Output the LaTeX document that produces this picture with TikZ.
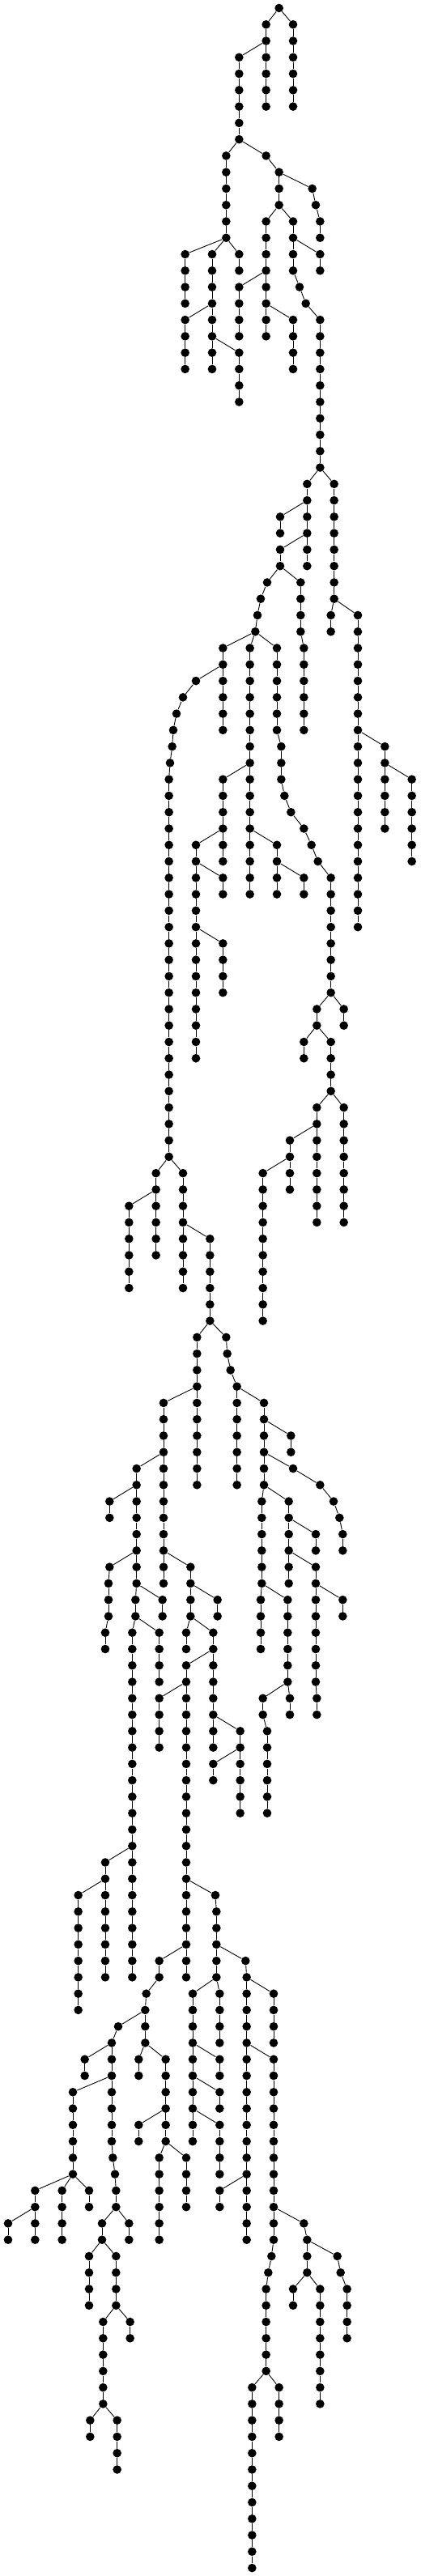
\documentclass[tikz,border=0pt]{standalone}
\usepackage{tikz}
\tikzset{
  dot/.style={circle,draw=none,fill=black,inner sep=0pt,minimum size=5.3pt},
  link/.style={line width=0.45pt},
  tree/.style={x=0.16667pt,y=10.135pt}
}
% one branch: name, parent node, first level, x of each node
\newcommand{\branch}[4]{%
  \foreach \xx [count=\k from 0] in {#4}{%
    \pgfmathtruncatemacro{\lev}{#3+\k}
    \node[dot] (#1-\k) at (\xx,-\lev) {};
    \ifnum\k=0 \draw[link] (#2) -- (#1-0);
    \else \pgfmathtruncatemacro{\prv}{\k-1}\draw[link] (#1-\prv) -- (#1-\k);\fi
  }%
}
\begin{document}
\begin{tikzpicture}[tree]
  \useasboundingbox (0,0.4933) rectangle (1557,-156.49);
  \node[dot] (r) at (1034,0) {};
  \branch{a}{r}{1}{986,986,986,986,986,986}
  \branch{b}{r}{1}{1086,1086,1086,1086,1086,1086}
  \branch{c}{a-1}{3}{886,886,886,886,886,886}
  \branch{d}{c-5}{9}{838,838,838,838,838,838}
  \branch{e}{c-5}{9}{986,1034,1034,1034}
  \branch{f}{e-1}{11}{1157,1170,1186,1186}
  \branch{g}{e-3}{13}{986,986,986,986}
  \branch{h}{e-3}{13}{1086,1086}
  \branch{i}{h-1}{15}{1086,1086,1110,1133,1186,1186,1186,1186,1186,1186,1186,1186,1186,1186}
  \branch{j}{h-1}{15}{1186,1186}
  \branch{k}{d-5}{15}{686,686,686,686}
  \branch{l}{d-5}{15}{786,786,786,786}
  \branch{m}{d-5}{15}{886,886}
  \branch{n}{l-3}{19}{686,686,686,686}
  \branch{o}{l-3}{19}{786,786,786,786}
  \branch{p}{o-1}{21}{886,886,886,886}
  \branch{q}{g-3}{17}{886,886,886,886}
  \branch{s}{g-3}{17}{986,986,986,986}
  \branch{t}{s-1}{19}{1086,1086,1086,1086}
  % middle part
  \branch{u}{i-13}{29}{1138,1138,1138,1138,1138,1138}
  \branch{v}{u-1}{31}{1038,1038}
  \branch{w}{u-3}{33}{1038,1038}
  \branch{x}{w-1}{35}{990,966,954,946}
  \branch{y}{w-1}{35}{1114,1114,1114,1114,1126,1126,1126,1126,1126,1126}
  \branch{z}{i-13}{29}{1238,1238,1238,1238,1238,1238,1238,1238}
  \branch{aa}{z-7}{37}{1226,1226}
  \branch{ab}{z-7}{37}{1326,1326,1326,1326,1326,1326,1326,1326,1326,1326,1326,1326,1326,1326,1326,1326,1326,1326,1326,1326}
  \branch{ac}{ab-7}{45}{1426,1426,1426,1426,1426,1426}
  \branch{ad}{ac-1}{47}{1526,1526,1526,1526,1526,1526}
  \branch{ae}{x-3}{39}{826,826,826,826,826,826}
  \branch{af}{ae-1}{41}{726,678,654,642,638,630,626,626,626,626,626,626,626,626,626,626,626,626,626,626,626,626,626,626,626,626,626,626,626,626}
  \branch{ag}{x-3}{39}{926,926,926,926,926,926,926,926,926,926,926,926,926,926,926,926}
  \branch{ah}{ag-7}{47}{826,826,826,826,826,826}
  \branch{ai}{ah-3}{51}{726,726,726,726,726,726,726,726,726,726,726,726,726,726}
  \branch{aj}{ai-1}{53}{826,826}
  \branch{ak}{ai-5}{57}{826,826,826,826}
  \branch{al}{ag-11}{51}{1026,1026,1026,1026}
  \branch{am}{al-1}{53}{1126,1126}
  \branch{an}{x-3}{39}{1026,1026,1026,1026,1026,1026,1042,1042,1042,1054,1078,1126,1154,1178,1226,1226,1226,1226,1226,1226,1226,1226}
  \branch{ao}{an-21}{61}{1274,1274}
  \branch{ap}{an-21}{61}{1174,1174}
  \branch{aq}{ap-1}{63}{1126,1126}
  \branch{ar}{ap-1}{63}{1226,1226,1226,1226}
  \branch{as}{ar-3}{67}{1174,1174,1174,1174,1174,1174,1174,1174}
  \branch{at}{ar-3}{67}{1274,1274,1274,1274,1274,1274,1274,1274}
  \branch{au}{as-1}{69}{1074,1074,1074,1074}
  \branch{av}{au-1}{71}{974,974,974,974,974,974,974,974,974,974}
  \branch{aw}{af-29}{71}{578,578,578,578,578,578}
  \branch{ax}{aw-1}{73}{478,478,478,478,478,478}
  \branch{ay}{af-29}{71}{678,678,678,678,678,678,678,678}
  \branch{az}{ay-3}{75}{778,778,778,778,778,778}
  % lower part
  \branch{ba}{az-5}{81}{730,730,730,730,730,730,730,730,730,730}
  \branch{bb}{ba-3}{85}{606,606,606,606,606,606,606,606,606,606,606,606}
  \branch{bc}{bb-9}{95}{706,706,706,706}
  \branch{bd}{bc-1}{97}{806,806}
  \branch{be}{bc-3}{99}{690,690}
  \branch{bf}{bc-3}{99}{790,790,790,790,790,790,790,790}
  \branch{bg}{bf-1}{101}{690,690,690,690,690,690,690,690,690,690,690,690,690,690,690,690,690,690,690,690}
  \branch{bh}{bg-1}{103}{590,590,590,590}
  \branch{bi}{bf-5}{105}{890,890,890,890,890,890}
  \branch{bj}{bi-1}{107}{790,790}
  \branch{bk}{bb-3}{89}{506,506,506,506,506,506,506,506,502,502,490,490,490,490,490,490,490,490,490,490,490,490,490,490,490,490,490,490,490,490,490,490}
  \branch{bl}{bk-1}{91}{406,406}
  \branch{bm}{bk-5}{95}{406,402,402,402,390,390}
  \branch{bn}{bk-7}{97}{602,602}
  \branch{bo}{bk-9}{99}{590,590,590,590}
  \branch{bp}{bk-23}{113}{390,390,390,390,390,390,390,390}
  \branch{bq}{bp-1}{115}{290,290,290,290,290,290,290,290}
  \branch{br}{bg-13}{115}{798,802,802,802,802,802}
  \branch{bs}{br-5}{121}{714,714,714,714,714,714,714,714,714,714}
  \branch{bt}{br-5}{121}{814,814,814,814}
  \branch{bu}{bs-3}{125}{814,814}
  \branch{bv}{bs-5}{127}{814,814}
  \branch{bw}{bs-7}{129}{814,814,814,814}
  \branch{bx}{br-3}{119}{910,914,914,914,914,914,914,914,914,914,914,914,914,914,914,914,914,914}
  \branch{by}{bx-1}{121}{1014,1014,1014,1014}
  \branch{bz}{bx-5}{125}{1014,1014,1014,1014,1014,1014,1014,1014,1014,1014,1014,1014,1006,994,986,986,986,986,986,986}
  \branch{ca}{bx-13}{133}{814,814}
  \branch{cb}{bz-9}{135}{1126,1138,1138,1138}
  \branch{cc}{cb-1}{137}{1250,1262,1286,1286,1286,1286}
  \branch{cd}{cb-3}{139}{1086,1086}
  \branch{ce}{cb-3}{139}{1186,1186,1186,1186,1186,1186,1186,1186}
  \branch{cf}{bz-19}{145}{934,934,934,934,934,934,934,934,934,934,934,934}
  \branch{cg}{bz-19}{145}{1034,1034,1034,1034}
  \branch{ch}{bg-17}{119}{590,590,542,538,538,538}
  \branch{ci}{ch-3}{123}{438,414,414,414,414,414,414,414,418,426,430,430}
  \branch{cj}{ci-1}{125}{314,314}
  \branch{ck}{ci-3}{127}{270,270,270,270,270,270}
  \branch{cl}{ck-5}{133}{130,130,130,130}
  \branch{cm}{cl-1}{135}{30,30}
  \branch{cn}{ck-5}{133}{230,230,230,230}
  \branch{co}{ck-5}{133}{330,330}
  \branch{cp}{ci-11}{135}{478,478}
  \branch{cq}{ci-11}{135}{378,378}
  \branch{cr}{cq-1}{137}{330,330,330,330}
  \branch{cs}{cq-1}{137}{430,430,430,430}
  \branch{ct}{cs-3}{141}{482,482}
  \branch{cu}{cs-3}{141}{382,382,382,382,382,382}
  \branch{cv}{cu-5}{147}{334,334}
  \branch{cw}{cu-5}{147}{434,434,434,434}
  \branch{cx}{ch-5}{125}{514,514}
  \branch{cy}{ch-5}{125}{614,614,614,614,614,614}
  \branch{cz}{cy-3}{129}{514,514}
  \branch{da}{cy-5}{131}{590,590,590,590,590,590}
  \branch{db}{cy-5}{131}{690,690,690,690}
  \branch{dc}{az-5}{81}{838,842,854,878,878,878,878,878,878,878}
  \branch{dd}{dc-3}{85}{978,978,978,978,978,978}
  \branch{de}{dd-1}{87}{1078,1078}
  \branch{df}{dd-3}{89}{1086,1186,1236,1258,1270,1270}
  \branch{dg}{dd-5}{91}{970,970,970,970,970,970}
  \branch{dh}{dg-5}{97}{966,966,966,966}
  \branch{di}{dg-5}{97}{1066,1066,1066,1066,1066,1066}
  \branch{dj}{di-5}{103}{974,974,990,990,990,990,990,990}
  \branch{dk}{di-5}{103}{1074,1074}
  \branch{dl}{dd-5}{91}{1070,1070,1070,1070,1070,1070}
  \branch{dm}{dl-1}{93}{1170,1170}
  \branch{dn}{dl-3}{95}{1170,1170,1170,1170,1170,1170,1170,1170,1174,1174}
  \branch{do}{dn-1}{97}{1270,1270}
\end{tikzpicture}
\end{document}
